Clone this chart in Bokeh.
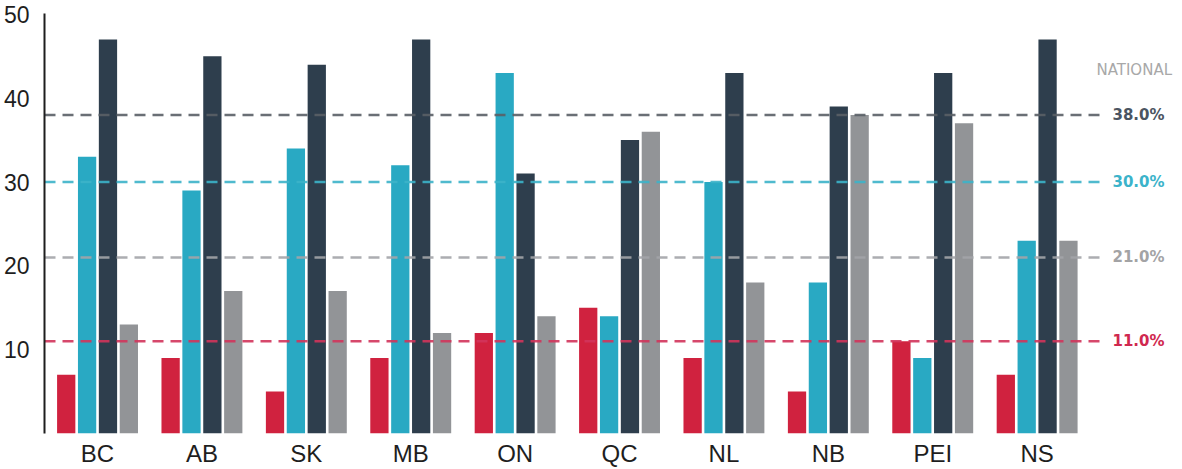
from bokeh.plotting import figure
from bokeh.models import Range1d, FixedTicker, ColumnDataSource
from bokeh.embed import file_html
from bokeh.resources import INLINE
from bokeh.core.properties import value

# ---- data ----
provinces = ["BC", "AB", "SK", "MB", "ON", "QC", "NL", "NB", "PEI", "NS"]
series_red = [7, 9, 5, 9, 12, 15, 9, 5, 11, 7]
series_teal = [33, 29, 34, 32, 43, 14, 30, 18, 9, 23]
series_dark = [47, 45, 44, 47, 31, 35, 43, 39, 43, 47]
series_gray = [13, 17, 17, 12, 14, 36, 18, 38, 37, 23]
national_values = [38.0, 30.0, 21.0, 11.0]   # dark, teal, gray, red
national_title = "NATIONAL"
y_ticks = [10, 20, 30, 40, 50]

# ---- styles ----
bar_colors = ["#D0223F", "#29A9C3", "#2E3E4D", "#929497"]
line_colors = ["#5A5F66", "#3CB3C9", "#A3A4A8", "#D1345B"]
label_colors = ["#4B5461", "#3BB3CA", "#A3A3A5", "#D0284F"]
offsets = [-0.3, -0.1, 0.1, 0.3]
bar_w = 0.175

x_start = -0.508
x_end = x_start + 1138 / 104.4

p = figure(width=1182, height=469, output_backend="svg", toolbar_location=None,
           x_range=Range1d(x_start, x_end), y_range=Range1d(0, 50.1),
           min_border_left=44, min_border_right=0, min_border_top=13,
           min_border_bottom=36)
p.outline_line_color = None
p.grid.visible = False
p.background_fill_color = "white"
p.border_fill_color = "white"

idx = list(range(len(provinces)))
for series, col, off in zip([series_red, series_teal, series_dark, series_gray], bar_colors, offsets):
    src = ColumnDataSource(dict(x=[i + off for i in idx], top=series))
    p.vbar(x="x", top="top", bottom=0, width=bar_w, source=src,
           fill_color=col, line_color=None)

# national reference lines
line_end = 9.66
for v, lc, tc in zip(national_values, line_colors, label_colors):
    p.segment(x0=x_start, x1=line_end, y0=v, y1=v, line_color=lc,
              line_width=2.5, line_dash="11 7", line_alpha=0.9)
    p.text(x=[10.22], y=[v], text=["%.1f%%" % v], text_align="right",
           text_baseline="middle", text_color=tc, text_font_size="15px",
           text_font_style="bold", text_font=value("DejaVu Sans"))

p.text(x=[9.93], y=[43.4], text=[national_title], text_align="center",
       text_baseline="middle", text_color="#A8A8A8", text_font_size="15px",
       text_font=value("DejaVu Sans"))

# y axis
p.yaxis.ticker = FixedTicker(ticks=y_ticks)
p.yaxis.axis_line_color = "#1E1E1E"
p.yaxis.axis_line_width = 2
p.yaxis.major_tick_line_color = None
p.yaxis.minor_tick_line_color = None
p.yaxis.major_label_text_font = "Liberation Sans"
p.yaxis.major_label_text_font_size = "23px"
p.yaxis.major_label_text_color = "#1E1E1E"
p.yaxis.major_label_standoff = 9

# x axis
p.xaxis.ticker = FixedTicker(ticks=idx)
p.xaxis.major_label_overrides = {i: name for i, name in zip(idx, provinces)}
p.xaxis.axis_line_color = None
p.xaxis.major_tick_line_color = None
p.xaxis.minor_tick_line_color = None
p.xaxis.major_label_text_font = "Liberation Sans"
p.xaxis.major_label_text_font_size = "24px"
p.xaxis.major_label_text_color = "#1E1E1E"
p.xaxis.major_label_standoff = 0

open("out.html", "w").write(file_html(p, INLINE))
